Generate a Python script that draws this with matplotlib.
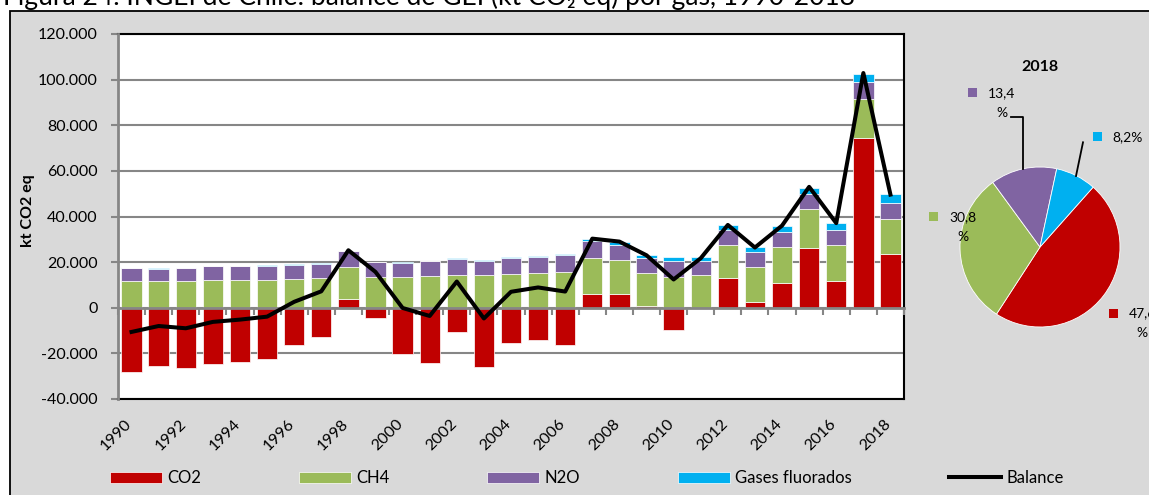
import matplotlib
matplotlib.use("Agg")
import matplotlib.pyplot as plt
import numpy as np
from matplotlib.patches import Rectangle
from matplotlib.lines import Line2D
from matplotlib.transforms import ScaledTranslation

plt.rcParams['font.family'] = ['Lato', 'DejaVu Sans']

# ---------------- data (kt CO2 eq, thousands) ----------------
years = list(range(1990, 2019))
co2 = [-28.0, -25.4, -26.5, -24.5, -23.8, -22.4, -16.3, -12.7, 3.7, -4.6,
       -20.3, -24.2, -10.6, -25.8, -15.4, -14.3, -16.4, 6.0, 6.0, 0.8,
       -9.9, -0.3, 13.1, 2.5, 10.7, 26.3, 11.6, 74.3, 23.7]
ch4 = [11.7, 11.7, 11.7, 12.2, 12.2, 12.2, 12.6, 13.1, 14.3, 13.5,
       13.5, 13.8, 14.5, 14.4, 14.8, 15.3, 15.7, 15.7, 15.0, 14.3,
       13.6, 14.2, 14.6, 15.5, 16.0, 16.9, 15.9, 17.2, 15.4]
n2o = [5.8, 5.5, 5.6, 5.9, 6.2, 6.3, 6.3, 6.2, 6.8, 6.5,
       6.2, 6.5, 6.9, 6.3, 7.0, 7.0, 7.3, 7.6, 6.7, 6.6,
       7.0, 6.3, 6.4, 6.3, 6.7, 6.7, 6.5, 7.6, 6.7]
fgas = [0.1, 0.1, 0.1, 0.1, 0.1, 0.1, 0.2, 0.2, 0.2, 0.2,
        0.2, 0.2, 0.3, 0.3, 0.3, 0.4, 0.5, 0.7, 1.1, 1.3,
        1.5, 1.6, 2.1, 2.2, 2.3, 2.8, 3.2, 3.4, 4.1]
balance = [-10.6, -8.0, -9.0, -6.2, -5.2, -3.9, 2.6, 7.2, 25.2, 15.7,
           -0.1, -3.6, 11.5, -4.7, 7.0, 8.9, 7.1, 30.3, 29.0, 23.0,
           12.4, 21.7, 36.3, 26.4, 36.0, 53.0, 37.1, 102.9, 49.6]
pie_values = [47.6, 30.8, 13.4, 8.2]
pie_year = "2018"
yticks = [-40, -20, 0, 20, 40, 60, 80, 100, 120]

series_names = ["CO2", "CH4", "N2O", "Gases fluorados"]
colors = ["#C00000", "#9BBB59", "#8064A2", "#00B0F0"]
GRAY = "#868686"

W, H = 1149, 495
fig = plt.figure(figsize=(W / 100, H / 100), dpi=100, facecolor="white")


def fx(x):
    return x / W


def fy(y):
    return 1 - y / H


# gray panel
fig.patches.append(Rectangle((fx(10), -0.1), 1.2, fy(10.7) + 0.1,
                             transform=fig.transFigure, facecolor="#D9D9D9",
                             edgecolor="black", lw=1.3, zorder=-10))

# title (partially cropped at the top)
title = fig.text(fx(3), fy(5), "Figura 24. INGEI de Chile: balance de GEI (kt CO\u2082 eq) por gas, 1990-2018",
                 ha="left", va="baseline", fontsize=15, color="black")

# ---------------- bar chart ----------------
ax = fig.add_axes([fx(118), fy(399), (904 - 118) / W, (399 - 34) / H])
ax.set_facecolor("white")
x = np.arange(len(years))
vals = np.array([co2, ch4, n2o, fgas]) * 1000.0
pos_base = np.zeros(len(years))
neg_base = np.zeros(len(years))
handles = []
for v, c, name in zip(vals, colors, series_names):
    base = np.where(v >= 0, pos_base, neg_base)
    b = ax.bar(x, v, bottom=base, width=0.75, color=c, edgecolor="white",
               linewidth=0.5, label=name, zorder=2)
    handles.append(b)
    pos_base = pos_base + np.where(v >= 0, v, 0)
    neg_base = neg_base + np.where(v < 0, v, 0)

ln, = ax.plot(x, np.array(balance) * 1000.0, color="black", lw=2.9,
              zorder=4, label="Balance", solid_joinstyle="round")
handles.append(ln)

ax.set_xlim(-0.5, len(years) - 0.5)
ax.set_ylim(-40000, 120000)
ax.set_yticks([t * 1000 for t in yticks])
ax.set_yticklabels([("%d" % t + (".000" if t != 0 else "")) for t in yticks],
                   fontsize=11.5)
ax.tick_params(axis="y", direction="out", length=5, width=1.5, color=GRAY,
               pad=9.5)
ax.set_axisbelow(True)
ax.yaxis.grid(True, color=GRAY, lw=1.5)

ax.set_xticks(x)
ax.set_xticklabels([str(y) if y % 2 == 0 else "" for y in years],
                   rotation=45, ha="right", va="top", fontsize=11.5)
ax.tick_params(axis="x", length=0, pad=13)
off = ScaledTranslation(3 / 100, 0, fig.dpi_scale_trans)
for lab in ax.get_xticklabels():
    lab.set_transform(lab.get_transform() + off)

for s in ["top", "right", "bottom"]:
    ax.spines[s].set_color("black")
    ax.spines[s].set_linewidth(1.5)
ax.spines["left"].set_color(GRAY)
ax.spines["left"].set_linewidth(2)
ax.spines["left"].set_zorder(5)

# zero category axis with boundary ticks
sec = ax.secondary_xaxis(0, transform=ax.transData)
sec.set_xticks(np.arange(len(years) + 1) - 0.5)
sec.tick_params(direction="out", length=5, width=1.5, color=GRAY,
                labelbottom=False, labeltop=False)
sec.spines["bottom"].set_color(GRAY)
sec.spines["bottom"].set_linewidth(2)
sec.set_zorder(3)

ax.set_ylabel("kt CO2 eq", fontsize=11.5, fontweight="bold")
ax.yaxis.set_label_coords((35 - 118) / 786, (399 - 211) / 365)

# ---------------- pie ----------------
r = 80
cxp, cyp = 1040, 247
pax = fig.add_axes([fx(cxp - r), fy(cyp + r), 2 * r / W, 2 * r / H])
pax.pie(pie_values, colors=colors, startangle=48.4, counterclock=False,
        wedgeprops=dict(edgecolor="white", linewidth=0.6))
pax.set_xlim(-1, 1)
pax.set_ylim(-1, 1)
pax.set_aspect("equal")
fig.text(fx(1040), fy(67), pie_year, ha="center", va="center",
         fontsize=11.5, fontweight="bold")


def pct(v):
    return ("%.1f" % v).replace(".", ",")


# label positions: (square center, text anchor, wrapped?)
lab_specs = [
    ((1113.5, 313.3), (1142, 313), True),   # CO2
    ((933.5, 216.0), (963, 217), True),     # CH4
    ((972.5, 92.0), (1001.5, 93), True),    # N2O
    ((1097.7, 136.7), (1112, 137), False),  # F-gases
]
for (sq, tp, wrap), v, c in zip(lab_specs, pie_values, colors):
    fig.patches.append(Rectangle((fx(sq[0] - 4.5), fy(sq[1] + 4.5)), 9 / W, 9 / H,
                                 transform=fig.transFigure, facecolor=c,
                                 edgecolor="none"))
    if wrap:
        fig.text(fx(tp[0]), fy(tp[1]), pct(v), ha="center", va="center", fontsize=10)
        fig.text(fx(tp[0]), fy(tp[1] + 20), "%", ha="center", va="center", fontsize=10)
    else:
        fig.text(fx(tp[0]), fy(tp[1]), pct(v) + "%", ha="left", va="center", fontsize=10)

# leader lines
fig.lines.append(Line2D([fx(1011), fx(1023.3), fx(1023.3)], [fy(117.3), fy(117.3), fy(168.5)],
                        transform=fig.transFigure, color="black", lw=1.3))
fig.lines.append(Line2D([fx(1083), fx(1076)], [fy(142.3), fy(176)],
                        transform=fig.transFigure, color="black", lw=1.3))

# ---------------- legend ----------------
fs_leg = 12
em = fs_leg * 100 / 72
fig.legend(handles, series_names + ["Balance"], loc="center left",
           bbox_to_anchor=(fx(110), fy(478)), ncol=5, frameon=False,
           fontsize=fs_leg, handlelength=52 / em, handleheight=11 / em,
           handletextpad=5 / em, columnspacing=98 / em, borderpad=0,
           borderaxespad=0)

# fit title width
fig.canvas.draw()
bb = title.get_window_extent()
title.set_fontsize(15 * 855 / bb.width)

fig.savefig("out.png", dpi=100, facecolor="white")
